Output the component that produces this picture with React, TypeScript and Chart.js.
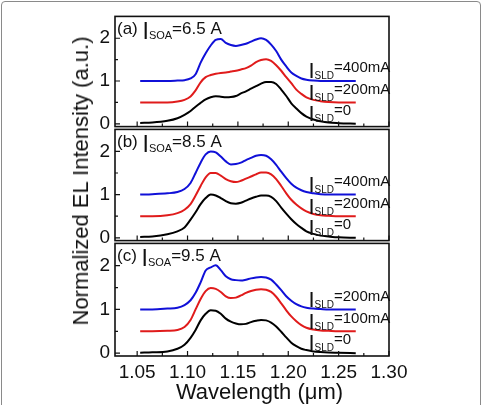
import { useEffect, useRef } from "react";
import { Chart, registerables } from "chart.js";

Chart.register(...registerables);

const FONT = '"Liberation Sans", Arial, Helvetica, sans-serif';

// Wavelength sampling (µm) shared by every spectrum
const wavelength = [
  1.053, 1.065, 1.08, 1.09, 1.097, 1.103, 1.108, 1.113, 1.118, 1.123, 1.128, 1.133,
  1.138, 1.143, 1.148, 1.153, 1.158, 1.163, 1.168, 1.173, 1.178, 1.183, 1.188, 1.193,
  1.198, 1.203, 1.208, 1.213, 1.218, 1.225, 1.232, 1.24, 1.25, 1.267,
];

// (a) I_SOA = 6.5 A
const soa65_sld0 = [
  0.02, 0.03, 0.07, 0.13, 0.21, 0.3, 0.4, 0.49, 0.57, 0.62, 0.645, 0.635,
  0.62, 0.625, 0.65, 0.71, 0.76, 0.82, 0.88, 0.94, 0.98, 0.98, 0.93, 0.8,
  0.65, 0.48, 0.36, 0.25, 0.17, 0.1, 0.06, 0.03, 0.015, 0.0,
];
const soa65_sld200 = [
  0.5, 0.5, 0.5, 0.52, 0.56, 0.64, 0.78, 0.97, 1.09, 1.14, 1.17, 1.19,
  1.2, 1.22, 1.24, 1.27, 1.3, 1.36, 1.44, 1.49, 1.51, 1.47, 1.37, 1.24,
  1.09, 0.95, 0.8, 0.7, 0.62, 0.56, 0.53, 0.51, 0.5, 0.5,
];
const soa65_sld400 = [
  1.0, 1.0, 1.0, 1.01, 1.02, 1.06, 1.16, 1.43, 1.65, 1.83, 1.96, 1.98,
  1.89, 1.84, 1.82, 1.84, 1.87, 1.92, 1.97, 2.0, 1.96, 1.85, 1.7, 1.5,
  1.34, 1.2, 1.12, 1.06, 1.03, 1.01, 1.0, 1.0, 1.0, 1.0,
];

// (b) I_SOA = 8.5 A
const soa85_sld0 = [
  0.02, 0.03, 0.08, 0.15, 0.24, 0.42, 0.59, 0.78, 0.92, 1.0, 0.98, 0.92,
  0.85, 0.8, 0.79, 0.81, 0.86, 0.91, 0.95, 0.98, 0.98, 0.95, 0.85, 0.7,
  0.56, 0.43, 0.32, 0.23, 0.15, 0.09, 0.05, 0.03, 0.01, 0.0,
];
const soa85_sld200 = [
  0.5, 0.5, 0.52, 0.57, 0.65, 0.78, 0.98, 1.2, 1.4, 1.5, 1.5, 1.44,
  1.36, 1.31, 1.29, 1.32, 1.37, 1.42, 1.47, 1.51, 1.51, 1.47, 1.36, 1.2,
  1.03, 0.88, 0.77, 0.68, 0.61, 0.55, 0.52, 0.51, 0.5, 0.5,
];
const soa85_sld400 = [
  1.0, 1.01, 1.03, 1.06, 1.13, 1.27, 1.5, 1.74, 1.93, 2.0, 1.98, 1.88,
  1.77, 1.7, 1.71, 1.74, 1.8, 1.85, 1.9, 1.92, 1.9, 1.82, 1.69, 1.53,
  1.38, 1.25, 1.16, 1.1, 1.06, 1.03, 1.01, 1.0, 1.0, 1.0,
];

// (c) I_SOA = 9.5 A
const soa95_sld0 = [
  0.01, 0.02, 0.04, 0.1, 0.19, 0.35, 0.53, 0.75, 0.9, 0.98, 0.97, 0.9,
  0.79, 0.72, 0.68, 0.66, 0.67, 0.71, 0.74, 0.76, 0.75, 0.7, 0.61, 0.49,
  0.36, 0.24, 0.16, 0.1, 0.07, 0.04, 0.025, 0.015, 0.01, 0.0,
];
const soa95_sld100 = [
  0.5, 0.5, 0.51, 0.53, 0.6, 0.76, 1.0, 1.24, 1.42, 1.49, 1.47, 1.4,
  1.3, 1.26, 1.27, 1.32, 1.38, 1.42, 1.45, 1.46, 1.45, 1.4, 1.29, 1.14,
  0.98, 0.84, 0.73, 0.64, 0.58, 0.54, 0.52, 0.51, 0.5, 0.5,
];
const soa95_sld200 = [
  1.0, 1.0, 1.02, 1.04, 1.1, 1.21, 1.38, 1.62, 1.89, 1.96, 2.01, 1.9,
  1.76, 1.69, 1.67, 1.66, 1.68, 1.71, 1.73, 1.74, 1.73, 1.68, 1.57, 1.44,
  1.3, 1.2, 1.12, 1.07, 1.04, 1.02, 1.01, 1.0, 1.0, 1.0,
];

// Panel captions and curve labels
const panelTags = ["(a)", "(b)", "(c)"];
const soaCurrents = ["=6.5 A", "=8.5 A", "=9.5 A"];
const sldLabels = [
  ["=0", "=200mA", "=400mA"],
  ["=0", "=200mA", "=400mA"],
  ["=0", "=100mA", "=200mA"],
];
const sldLabelLevels = [0.2, 0.7, 1.2];
const sldLabelX = 1.22;

// Axis ticks
const xMajor = [1.05, 1.1, 1.15, 1.2, 1.25, 1.3];
const xMinor = [1.075, 1.125, 1.175, 1.225, 1.275];
const yMajor = [0, 1, 2];
const yMinor = [0.5, 1.5];
const X_MIN = 1.028;
const X_MAX = 1.3;
const Y_MIN = -0.065;
const Y_MAX = 2.51;

const panelSeries = [
  [soa65_sld0, soa65_sld200, soa65_sld400],
  [soa85_sld0, soa85_sld200, soa85_sld400],
  [soa95_sld0, soa95_sld100, soa95_sld200],
];
const seriesColors = ["#000000", "#e01b1b", "#1010d8"];

type Part = { t: string; size: number; dy: number };

function drawRich(ctx: CanvasRenderingContext2D, x: number, y: number, parts: Part[]) {
  let cx = x;
  for (const p of parts) {
    ctx.font = `${p.size}px ${FONT}`;
    ctx.fillText(p.t, cx, y + p.dy);
    cx += ctx.measureText(p.t).width;
  }
}

// Frame around the plot area with inward tick marks on the bottom and left edges
const frameTicks = {
  id: "frameTicks",
  afterDatasetsDraw(chart: any) {
    const { ctx, chartArea, scales } = chart;
    const { left, right, top, bottom } = chartArea;
    const x = scales.x;
    const y = scales.y;
    ctx.save();
    ctx.strokeStyle = "#111";
    ctx.lineWidth = 1.6;
    ctx.strokeRect(left, top, right - left, bottom - top);
    ctx.beginPath();
    for (const v of xMajor) {
      const px = x.getPixelForValue(v);
      ctx.moveTo(px, bottom);
      ctx.lineTo(px, bottom - 5);
    }
    for (const v of xMinor) {
      const px = x.getPixelForValue(v);
      ctx.moveTo(px, bottom);
      ctx.lineTo(px, bottom - 3);
    }
    for (const v of yMajor) {
      const py = y.getPixelForValue(v);
      ctx.moveTo(left, py);
      ctx.lineTo(left + 5, py);
    }
    for (const v of yMinor) {
      const py = y.getPixelForValue(v);
      ctx.moveTo(left, py);
      ctx.lineTo(left + 3, py);
    }
    ctx.lineWidth = 1.2;
    ctx.stroke();
    ctx.restore();
  },
};

// Panel caption (top-left) and the I_SLD labels beside each curve
const panelText = {
  id: "panelText",
  afterDraw(chart: any, _args: any, opts: any) {
    const { ctx, chartArea, scales } = chart;
    const i = opts.panel as number;
    ctx.save();
    ctx.fillStyle = "#111";
    ctx.textAlign = "left";
    ctx.textBaseline = "alphabetic";
    drawRich(ctx, chartArea.left + 2, chartArea.top + 17.5, [
      { t: panelTags[i] + " ", size: 17, dy: 0 },
      { t: "I", size: 23, dy: 5 },
      { t: "SOA", size: 11, dy: 5 },
      { t: soaCurrents[i], size: 17, dy: 0 },
    ]);
    const px = scales.x.getPixelForValue(sldLabelX);
    sldLabels[i].forEach((lab, k) => {
      const py = scales.y.getPixelForValue(sldLabelLevels[k]);
      drawRich(ctx, px, py, [
        { t: "I", size: 22, dy: 6 },
        { t: "SLD", size: 10, dy: 7 },
        { t: lab, size: 15, dy: 0 },
      ]);
    });
    ctx.restore();
  },
};

const CANVAS_LEFT = 85;
const CANVAS_W = 330;
const panelBoxes = [
  { top: 0, height: 143, padBottom: 15 },
  { top: 113, height: 144, padBottom: 15 },
  { top: 227, height: 164, padBottom: 5 },
];

function Panel({ index }: { index: number }) {
  const ref = useRef<HTMLCanvasElement>(null);
  useEffect(() => {
    if (!ref.current) return;
    const showX = index === 2;
    const chart = new Chart(ref.current, {
      type: "line",
      data: {
        datasets: panelSeries[index].map((arr, k) => ({
          data: wavelength.map((w, j) => ({ x: w, y: arr[j] })),
          borderColor: seriesColors[k],
          borderWidth: 2,
          pointRadius: 0,
          fill: false,
          cubicInterpolationMode: "monotone" as const,
        })),
      },
      options: {
        animation: false,
        responsive: false,
        events: [],
        layout: { padding: { top: 15, bottom: panelBoxes[index].padBottom, left: 0, right: 26 } },
        plugins: {
          legend: { display: false },
          tooltip: { enabled: false },
          panelText: { panel: index },
        } as any,
        scales: {
          x: {
            type: "linear",
            min: X_MIN,
            max: X_MAX,
            grid: { display: false, drawTicks: false },
            border: { display: false },
            ticks: {
              display: showX,
              color: "#111",
              padding: 5,
              font: { size: 19, family: FONT },
              callback: (v: any) => Number(v).toFixed(2),
            },
            afterBuildTicks: (s: any) => {
              s.ticks = xMajor.map((v) => ({ value: v }));
            },
            afterFit: (s: any) => {
              s.height = showX ? 30 : 0;
            },
          },
          y: {
            type: "linear",
            min: Y_MIN,
            max: Y_MAX,
            grid: { display: false, drawTicks: false },
            border: { display: false },
            ticks: {
              color: "#111",
              padding: 5,
              font: { size: 19, family: FONT },
              callback: (v: any) => String(v),
            },
            afterBuildTicks: (s: any) => {
              s.ticks = yMajor.map((v) => ({ value: v }));
            },
            afterFit: (s: any) => {
              s.width = 30;
            },
          },
        },
      },
      plugins: [frameTicks, panelText],
    });
    return () => chart.destroy();
  }, [index]);
  const box = panelBoxes[index];
  return (
    <canvas
      ref={ref}
      width={CANVAS_W}
      height={box.height}
      style={{
        position: "absolute",
        left: CANVAS_LEFT,
        top: box.top,
        width: CANVAS_W,
        height: box.height,
      }}
    />
  );
}

export default function App() {
  return (
    <div
      style={{
        position: "fixed",
        left: 0,
        top: 0,
        width: 482,
        height: 405,
        overflow: "hidden",
        background: "#fff",
        fontFamily: FONT,
        color: "#111",
      }}
    >
      <div
        style={{
          position: "absolute",
          left: 1,
          top: 1,
          width: 478,
          height: 420,
          border: "1px solid #8a8a8a",
          borderRadius: 4,
        }}
      />
      <Panel index={0} />
      <Panel index={1} />
      <Panel index={2} />
      <div
        style={{
          position: "absolute",
          left: 80.5,
          top: 181,
          transform: "translate(-50%, -50%) rotate(-90deg)",
          whiteSpace: "nowrap",
          fontSize: 22,
          lineHeight: "22px",
        }}
      >
        Normalized EL Intensity (a.u.)
      </div>
      <div
        style={{
          position: "absolute",
          left: 18.5,
          top: 381.4,
          width: 482,
          textAlign: "center",
          whiteSpace: "nowrap",
          fontSize: 22,
          lineHeight: "22px",
        }}
      >
        Wavelength (μm)
      </div>
    </div>
  );
}
